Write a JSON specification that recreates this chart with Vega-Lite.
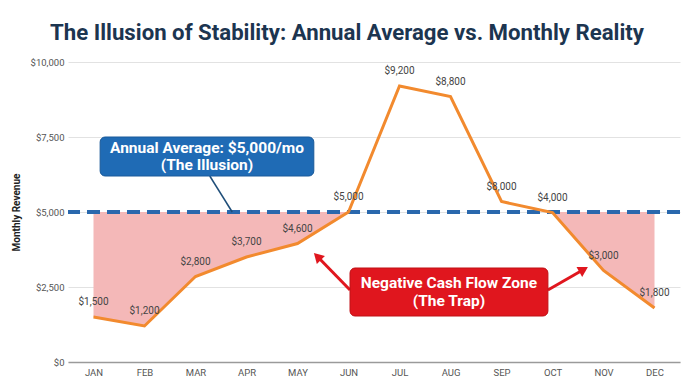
{
  "$schema": "https://vega.github.io/schema/vega-lite/v6.json",
  "autosize": {"type": "none"},
  "width": 612,
  "height": 300,
  "padding": {"left": 68, "top": 62, "right": 16, "bottom": 30},
  "background": "white",
  "title": {
    "text": "The Illusion of Stability: Annual Average vs. Monthly Reality",
    "font": "Roboto",
    "fontSize": 22.2,
    "fontWeight": "bold",
    "color": "#1c3550",
    "anchor": "middle",
    "frame": "group",
    "dx": -27,
    "offset": 13
  },
  "config": {
    "view": {"stroke": null},
    "font": "Roboto",
    "axis": {"labelFont": "Roboto", "titleFont": "Roboto"}
  },
  "datasets": {
    "revenue": [
      {"m": 1, "month": "JAN", "value": 1500, "label": "$1,500", "zone": "early"},
      {"m": 2, "month": "FEB", "value": 1200, "label": "$1,200", "zone": "early"},
      {"m": 3, "month": "MAR", "value": 2850, "label": "$2,800", "zone": "early"},
      {"m": 4, "month": "APR", "value": 3500, "label": "$3,700", "zone": "early"},
      {"m": 5, "month": "MAY", "value": 3950, "label": "$4,600", "zone": "early"},
      {"m": 6, "month": "JUN", "value": 5000, "label": "$5,000", "zone": "early"},
      {"m": 7, "month": "JUL", "value": 9200, "label": "$9,200", "zone": "none"},
      {"m": 8, "month": "AUG", "value": 8850, "label": "$8,800", "zone": "none"},
      {"m": 9, "month": "SEP", "value": 5350, "label": "$8,000", "zone": "none"},
      {"m": 10, "month": "OCT", "value": 4980, "label": "$4,000", "zone": "late"},
      {"m": 11, "month": "NOV", "value": 3050, "label": "$3,000", "zone": "late"},
      {"m": 12, "month": "DEC", "value": 1800, "label": "$1,800", "zone": "late"}
    ]
  },
  "layer": [
    {
      "data": {"name": "revenue"},
      "transform": [{"filter": "datum.zone != 'none'"}],
      "mark": {"type": "area", "color": "#f4b8b8", "opacity": 1},
      "encoding": {
        "x": {
          "field": "m", "type": "quantitative",
          "scale": {"domain": [0.5, 12.5], "nice": false, "zero": false},
          "axis": {
            "values": [1, 2, 3, 4, 5, 6, 7, 8, 9, 10, 11, 12],
            "labelExpr": "['JAN','FEB','MAR','APR','MAY','JUN','JUL','AUG','SEP','OCT','NOV','DEC'][datum.value - 1]",
            "title": null,
            "grid": false,
            "ticks": false,
            "domainColor": "#9a9a9a",
            "domainWidth": 1.5,
            "labelColor": "#555555",
            "labelFontSize": 9.5,
            "labelPadding": 5
          }
        },
        "y": {
          "field": "value", "type": "quantitative",
          "scale": {"domain": [0, 10000], "nice": false},
          "axis": {
            "values": [0, 2500, 5000, 7500, 10000],
            "format": "$,.0f",
            "title": "Monthly Revenue",
            "titleFontSize": 10,
            "titleFontWeight": "bold",
            "titleColor": "#222222",
            "titlePadding": 9,
            "domain": false,
            "ticks": false,
            "gridColor": "#e2e2e2",
            "labelColor": "#555555",
            "labelFontSize": 9.5,
            "labelPadding": 4
          }
        },
        "y2": {"datum": 5000},
        "detail": {"field": "zone"}
      }
    },
    {
      "data": {"values": [{"avg": 5000}]},
      "mark": {"type": "rule", "color": "#2a68ad", "strokeWidth": 4, "strokeDash": [13, 7]},
      "encoding": {"y": {"field": "avg", "type": "quantitative"}}
    },
    {
      "data": {"name": "revenue"},
      "mark": {"type": "line", "color": "#f28a2e", "strokeWidth": 3},
      "encoding": {
        "x": {"field": "m", "type": "quantitative"},
        "y": {"field": "value", "type": "quantitative"}
      }
    },
    {
      "data": {"name": "revenue"},
      "mark": {"type": "text", "dy": -15, "fontSize": 10, "color": "#444444", "font": "Roboto"},
      "encoding": {
        "x": {"field": "m", "type": "quantitative"},
        "y": {"field": "value", "type": "quantitative"},
        "text": {"field": "label"}
      }
    },
    {
      "data": {"values": [{"x": 3.28, "y": 6200, "x2": 3.72, "y2": 5000}]},
      "mark": {"type": "rule", "color": "#1f4e79", "strokeWidth": 1.5},
      "encoding": {
        "x": {"field": "x", "type": "quantitative"},
        "y": {"field": "y", "type": "quantitative"},
        "x2": {"field": "x2"},
        "y2": {"field": "y2"}
      }
    },
    {
      "data": {"values": [{"x": 1.13, "x2": 5.32, "y": 6200, "y2": 7500}]},
      "mark": {"type": "rect", "color": "#1f6bb5", "cornerRadius": 5, "stroke": "#1a5a9a", "strokeWidth": 1},
      "encoding": {
        "x": {"field": "x", "type": "quantitative"},
        "x2": {"field": "x2"},
        "y": {"field": "y", "type": "quantitative"},
        "y2": {"field": "y2"}
      }
    },
    {
      "data": {"values": [{"x": 3.225, "y": 6850, "t": "Annual Average: $5,000/mo\n(The Illusion)"}]},
      "mark": {"type": "text", "color": "white", "fontSize": 15.5, "fontWeight": "bold", "font": "Roboto", "lineBreak": "\n", "lineHeight": 17, "align": "center", "baseline": "middle", "dy": -8.5},
      "encoding": {
        "x": {"field": "x", "type": "quantitative"},
        "y": {"field": "y", "type": "quantitative"},
        "text": {"field": "t"}
      }
    },
    {
      "data": {"values": [
        {"x": 6.03, "y": 2400, "x2": 5.39, "y2": 3517},
        {"x": 9.91, "y": 2400, "x2": 10.61, "y2": 3083}
      ]},
      "mark": {"type": "rule", "color": "#e0161e", "strokeWidth": 3},
      "encoding": {
        "x": {"field": "x", "type": "quantitative"},
        "y": {"field": "y", "type": "quantitative"},
        "x2": {"field": "x2"},
        "y2": {"field": "y2"}
      }
    },
    {
      "data": {"values": [{"x": 5.39, "y": 3517}]},
      "mark": {"type": "point", "shape": "triangle-up", "filled": true, "color": "#e0161e", "size": 130, "angle": 315, "opacity": 1},
      "encoding": {
        "x": {"field": "x", "type": "quantitative"},
        "y": {"field": "y", "type": "quantitative"}
      }
    },
    {
      "data": {"values": [{"x": 10.61, "y": 3083}]},
      "mark": {"type": "point", "shape": "triangle-up", "filled": true, "color": "#e0161e", "size": 130, "angle": 60, "opacity": 1},
      "encoding": {
        "x": {"field": "x", "type": "quantitative"},
        "y": {"field": "y", "type": "quantitative"}
      }
    },
    {
      "data": {"values": [{"x": 6.03, "x2": 9.91, "y": 1533, "y2": 3133}]},
      "mark": {"type": "rect", "color": "#e0161e", "cornerRadius": 5, "stroke": "#c01015", "strokeWidth": 1},
      "encoding": {
        "x": {"field": "x", "type": "quantitative"},
        "x2": {"field": "x2"},
        "y": {"field": "y", "type": "quantitative"},
        "y2": {"field": "y2"}
      }
    },
    {
      "data": {"values": [{"x": 7.97, "y": 2333, "t": "Negative Cash Flow Zone\n(The Trap)"}]},
      "mark": {"type": "text", "color": "white", "fontSize": 15.5, "fontWeight": "bold", "font": "Roboto", "lineBreak": "\n", "lineHeight": 18, "align": "center", "baseline": "middle", "dy": -9},
      "encoding": {
        "x": {"field": "x", "type": "quantitative"},
        "y": {"field": "y", "type": "quantitative"},
        "text": {"field": "t"}
      }
    }
  ]
}
